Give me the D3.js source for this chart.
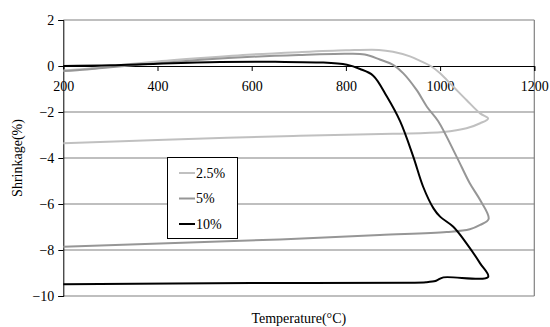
<!DOCTYPE html>
<html><head><meta charset="utf-8">
<script src="https://cdn.jsdelivr.net/npm/d3@7"></script>
<style>body{margin:0;background:#fff}svg{display:block}svg text{font-family:"Liberation Serif","Times New Roman",Times,serif !important;font-size:14px;fill:#000}</style>
</head><body>
<svg id="c" width="550" height="327"></svg>
<script>
const seriesNames = ["2.5%", "5%", "10%"];
const seriesColors = ["#c0c0c0", "#969696", "#000000"];
const xTicks = [200, 400, 600, 800, 1000, 1200];
const yTicks = [2, 0, -2, -4, -6, -8, -10];

const temp25 = [200,250,300,400,500,600,700,800,870,900,936,960,980,1000,1028,1056,1085,1102,1085,1056,1007,900,688,400,200];
const shrink25 = [-0.2,-0.12,0,0.2,0.36,0.5,0.6,0.68,0.7,0.62,0.42,0.2,0,-0.32,-0.9,-1.48,-2.06,-2.28,-2.49,-2.71,-2.87,-2.95,-3.04,-3.22,-3.36];

const temp5 = [200,250,300,400,500,600,700,800,840,872,901,922,950,972,996,1035,1063,1085,1103,1085,1063,1014,872,660,200];
const shrink5 = [-0.22,-0.15,-0.05,0.12,0.28,0.4,0.48,0.53,0.5,0.28,0.04,-0.32,-1.04,-1.77,-2.4,-3.94,-5.1,-5.83,-6.65,-6.91,-7.1,-7.22,-7.35,-7.54,-7.86];

const temp10 = [200,300,400,533,650,750,802,830,858,887,915,943,964,986,1000,1028,1056,1085,1102,1007,995,990,970,943,600,200];
const shrink10 = [0,0.03,0.1,0.17,0.18,0.15,0.05,-0.13,-0.42,-1.33,-2.4,-3.94,-5.25,-6.19,-6.55,-6.99,-7.71,-8.58,-9.17,-9.19,-9.3,-9.35,-9.4,-9.42,-9.44,-9.49];

const series = [[temp25, shrink25], [temp5, shrink5], [temp10, shrink10]];

const FONT = '"Liberation Serif","Times New Roman",Times,serif';
const svg = d3.select("#c");
const L = 63.3, R = 534.3, T = 20, B = 296;
const x = d3.scaleLinear().domain([200, 1200]).range([L, R]);
const y = d3.scaleLinear().domain([-10, 2]).range([B, T]);

// gridlines
svg.append("g").selectAll("line").data(yTicks.filter(d => d !== 0)).join("line")
  .attr("x1", L).attr("x2", R).attr("y1", d => y(d)).attr("y2", d => y(d))
  .attr("stroke", "#808080").attr("stroke-width", 1.2);
// right border
svg.append("line").attr("x1", R).attr("x2", R).attr("y1", T).attr("y2", B)
  .attr("stroke", "#808080").attr("stroke-width", 1.2);

// y axis
const yAxis = svg.append("g").attr("transform", `translate(${L},0)`)
  .call(d3.axisLeft(y).tickValues(yTicks).tickSize(5).tickPadding(4).tickFormat(d3.format("d")))
  .attr("font-family", FONT).attr("font-size", 14);
yAxis.select(".domain").attr("stroke", "#000");

// x axis at y=0
const xAxis = svg.append("g").attr("transform", `translate(0,${y(0)})`)
  .call(d3.axisBottom(x).tickValues(xTicks).tickSize(5).tickPadding(10).tickFormat(d3.format("d")))
  .attr("font-family", FONT).attr("font-size", 14);
xAxis.select(".domain").attr("stroke", "#000");

// lines
const line = d3.line().x(d => x(d[0])).y(d => y(d[1])).curve(d3.curveCatmullRom.alpha(0.5));
series.forEach((s, i) => {
  const pts = s[0].map((t, j) => [t, s[1][j]]);
  svg.append("path").datum(pts).attr("d", line).attr("fill", "none")
    .attr("stroke", seriesColors[i]).attr("stroke-width", 2).attr("stroke-linejoin", "round");
});

// legend
const lg = svg.append("g");
lg.append("rect").attr("x", 167.5).attr("y", 157.5).attr("width", 70).attr("height", 81)
  .attr("fill", "#fff").attr("stroke", "#000").attr("stroke-width", 1);
seriesNames.forEach((n, i) => {
  const yy = 173 + i * 25.5;
  lg.append("line").attr("x1", 179).attr("x2", 195).attr("y1", yy).attr("y2", yy)
    .attr("stroke", seriesColors[i]).attr("stroke-width", 2);
  lg.append("text").attr("x", 196).attr("y", yy).attr("dy", "0.35em").text(n);
});

// titles
svg.append("text").attr("x", (L + R) / 2).attr("y", 323).attr("text-anchor", "middle").text("Temperature(°C)");
svg.append("text").attr("transform", `translate(22,${(T + B) / 2}) rotate(-90)`).attr("text-anchor", "middle").text("Shrinkage(%)");
</script>
</body></html>
